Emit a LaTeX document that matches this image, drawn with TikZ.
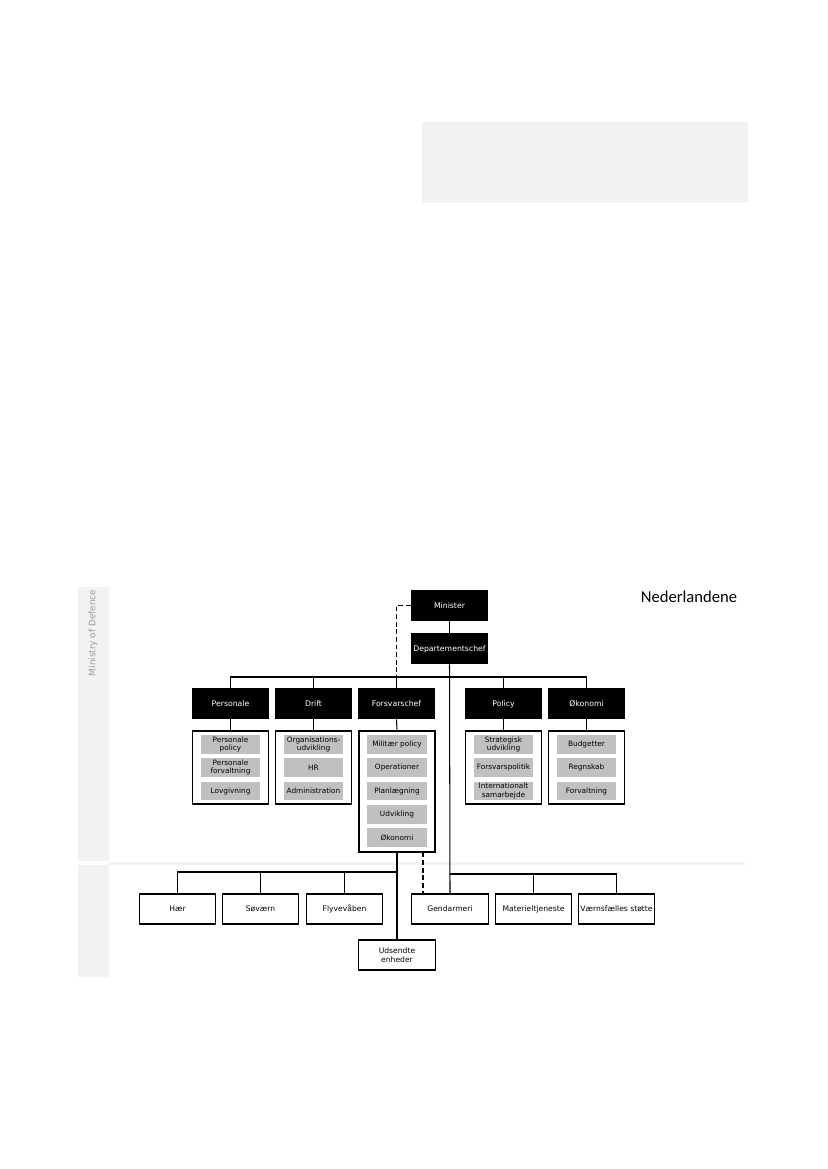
\documentclass[tikz,border=0pt]{standalone}
\usepackage{fontspec}
\setsansfont{DejaVu Sans}
\newfontfamily\headfont{Carlito}
\usetikzlibrary{positioning,calc}
\definecolor{panelGray}{HTML}{F2F2F2}
\definecolor{itemGray}{HTML}{C0C0C0}
\definecolor{labelGray}{HTML}{9A9A9A}
\tikzset{
  headbox/.style={
    rectangle, fill=black, text=white,
    minimum width=19.6mm, minimum height=7.9mm,
    inner sep=1pt, align=center,
    text height=1.5ex, text depth=0.35ex,
    font=\sffamily\fontsize{5.6}{6.4}\selectfont
  },
  grpbox/.style={
    rectangle, draw=black, line width=0.9pt, fill=white,
    minimum width=19.3mm, inner sep=0pt
  },
  itembox/.style={
    rectangle, fill=itemGray,
    minimum width=15mm, minimum height=4.8mm,
    inner sep=0.5pt, align=center,
    font=\sffamily\fontsize{5.3}{5.9}\selectfont
  },
  unitbox/.style={
    rectangle, draw=black, line width=0.9pt, fill=white,
    minimum width=19.4mm, minimum height=7.6mm,
    inner sep=1pt, align=center,
    font=\sffamily\fontsize{5.5}{6.6}\selectfont
  },
  link/.style={draw=black, line width=0.75pt},
  dotlink/.style={link, dash pattern=on 3.5pt off 2pt}
}

\begin{document}
\begin{tikzpicture}[x=0.254mm,y=-0.254mm]
  \useasboundingbox (0,0) rectangle (827,1169);
  % grey panel, top right
  \fill[panelGray] (422,122) rectangle (748,203);
  % side band and separator
  \fill[panelGray] (78,587) rectangle (109,861);
  \fill[panelGray] (78,865) rectangle (109,977);
  \fill[panelGray] (109,862) rectangle (745,865);
  \node[rotate=90, text=labelGray, font=\sffamily\fontsize{6.4}{7}\selectfont] (mod) at (93,633) {Ministry of Defence};
  \node[anchor=west, font=\headfont\fontsize{12}{14}\selectfont] (land) at (636,597) {Nederlandene};

  % top level
  \node[headbox] (minister) at (449.5,605.5) {Minister};
  \node[headbox] (dept) at (449.5,648.5) {Departementschef};
  \foreach \n/\x/\lab in {pers/230.5/Personale, drift/313.5/Drift, fchef/396.5/Forsvarschef, pol/503.5/Policy, oko/586.5/Økonomi}
    \node[headbox] (\n) at (\x,703.5) {\lab};

  % groups with their items
  \node[grpbox, minimum height=18.5mm] (g-pers) at (230.5,767.5) {};
  \node[grpbox, minimum height=18.5mm] (g-drift) at (313.5,767.5) {};
  \node[grpbox, minimum height=30.7mm] (g-fchef) at (397,791.5) {};
  \node[grpbox, minimum height=18.5mm] (g-pol) at (503.5,767.5) {};
  \node[grpbox, minimum height=18.5mm] (g-oko) at (586.5,767.5) {};
  \foreach \t [count=\i] in {{Personale\\policy},{Personale\\forvaltning},Lovgivning}
    \node[itembox] (pers-\i) at (230.5,721.25+23.25*\i) {\t};
  \foreach \t [count=\i] in {{Organisations-\\udvikling},HR,Administration}
    \node[itembox] (drift-\i) at (313.5,721.25+23.25*\i) {\t};
  \foreach \t [count=\i] in {Militær policy,Operationer,Planlægning,Udvikling,Økonomi}
    \node[itembox] (fchef-\i) at (397,721.25+23.25*\i) {\t};
  \foreach \t [count=\i] in {{Strategisk\\udvikling},Forsvarspolitik,{Internationalt\\samarbejde}}
    \node[itembox] (pol-\i) at (503.5,721.25+23.25*\i) {\t};
  \foreach \t [count=\i] in {Budgetter,Regnskab,Forvaltning}
    \node[itembox] (oko-\i) at (586.5,721.25+23.25*\i) {\t};

  % units
  \foreach \n/\x/\lab in {haer/177.5/Hær, soe/260.5/Søværn, fly/344.5/Flyvevåben, gend/450/Gendarmeri, mat/533.5/Materieltjeneste, vfs/616.5/Værnsfælles støtte}
    \node[unitbox] (\n) at (\x,909) {\lab};
  \node[unitbox] (uds) at (397,955) {Udsendte\\enheder};

  % connectors, top
  \coordinate (bus1) at (0,677);
  \draw[link] (minister) -- (dept);
  \draw[link] (dept.south) -- (gend.north);
  \draw[link] (pers.north) -- (pers.north |- bus1) -- (oko.north |- bus1) -- (oko.north);
  \foreach \n in {drift,fchef,pol}
    \draw[link] (\n.north) -- (\n.north |- bus1);
  \draw[dotlink] (minister.west) -| (fchef.north |- bus1);
  \foreach \n in {pers,drift,fchef,pol,oko}
    \draw[link] (\n.south) -- (g-\n.north);

  % connectors, bottom
  \coordinate (bus2) at (0,872);
  \coordinate (bus3) at (0,874);
  \coordinate (fdash) at (423,0);
  \draw[link] (g-fchef.south) -- (uds.north);
  \draw[link] (g-fchef.south |- bus2) -- (haer.north |- bus2) -- (haer.north);
  \foreach \n in {soe,fly}
    \draw[link] (\n.north |- bus2) -- (\n.north);
  \draw[link] (gend.north |- bus3) -- (vfs.north |- bus3) -- (vfs.north);
  \draw[link] (mat.north |- bus3) -- (mat.north);
  \draw[dotlink] (g-fchef.south -| fdash) -- (gend.north -| fdash);
\end{tikzpicture}
\end{document}
